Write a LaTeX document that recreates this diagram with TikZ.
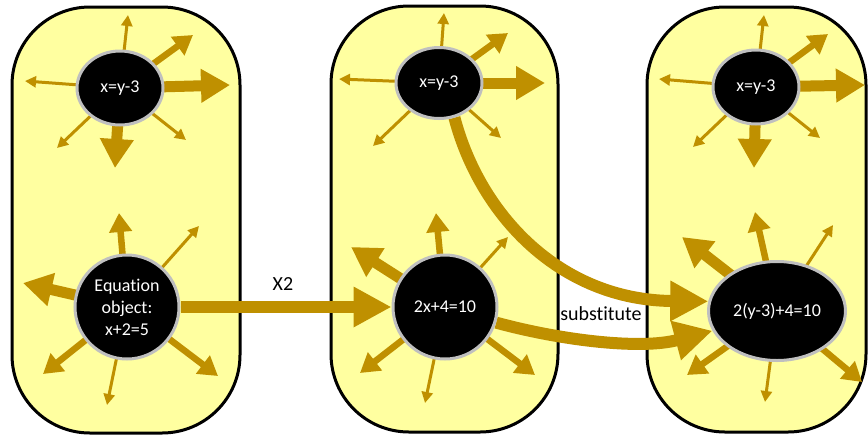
\documentclass[tikz,border=0pt]{standalone}
\usepackage{fontspec}
\setmainfont{Carlito}[Ligatures=NoCommon]
\usetikzlibrary{arrows.meta,shapes.geometric,backgrounds}
\definecolor{gold}{HTML}{BF9000}
\definecolor{panelfill}{RGB}{255,255,160}
\definecolor{rimgray}{HTML}{BFBFBF}
\begin{document}
\begin{tikzpicture}[x=1pt,y=-1pt,
  panel/.style={draw=black,line width=3pt,fill=panelfill,rounded corners=78pt},
  eqnode/.style={ellipse,fill=black,draw=rimgray,line width=3pt,text=white,inner sep=0pt,align=center,font=\fontsize{18}{22}\selectfont},
  thinarr/.style={color=gold,line width=3pt,-{Triangle[length=11pt,width=11pt]}},
  medarr/.style={color=gold,line width=6.5pt,-{Triangle[length=19pt,width=22pt]}},
  thickarr/.style={color=gold,line width=11pt,-{Triangle[length=29pt,width=32pt]}},
  mainarr/.style={color=gold,line width=12pt,-{Triangle[length=38pt,width=38pt]}},
  lbl/.style={font=\fontsize{20}{24}\selectfont,text=black}
]
\useasboundingbox (0,0) rectangle (868,437);

% equation nodes
\node[eqnode,minimum width=86pt,minimum height=74pt] (T1) at (120,88) {x=y-3};
\node[eqnode,minimum width=86pt,minimum height=71pt] (T2) at (439,83) {x=y-3};
\node[eqnode,minimum width=86pt,minimum height=74pt] (T3) at (756,87) {x=y-3};
\node[eqnode,minimum size=104pt] (B1) at (127,307) {Equation\\object:\\x+2=5};
\node[eqnode,minimum size=104pt] (B2) at (445,307) {2x+4=10};
\node[eqnode,minimum width=137pt,minimum height=99pt] (E3) at (777,311) {2(y-3)+4=10};

% labels
\node[lbl] (x2) at (283,284) {X2};
\node[lbl] (sub) at (601,314) {substitute};

\begin{pgfonlayer}{background}
\fill[white] (0,0) rectangle (868,437);
% panels
\draw[panel] (12,7) rectangle (240,433);
\draw[panel] (331,6) rectangle (558,432);
\draw[panel] (647,7) rectangle (866,432);

% main connectors
\draw[mainarr] (B1) -- (B2);
\draw[mainarr] (T2.-66) .. controls (480,215) and (560,300) .. (E3.172);
\draw[mainarr] (B2.-17) .. controls (560,340) and (640,350) .. (E3.197);

% spikes of T1
\draw[thinarr] (T1.center) -- ++(8,-73);
\draw[medarr] (T1.center) -- ++(73,-53);
\draw[thickarr] (T1.center) -- ++(110,-3);
\draw[thinarr] (T1.center) -- ++(66,52);
\draw[thickarr] (T1.center) -- ++(-5,80);
\draw[thinarr] (T1.center) -- ++(-63,60);
\draw[thinarr] (T1.center) -- ++(-95,-7);

% spikes of T2
\draw[thinarr] (T2.center) -- ++(5,-70);
\draw[medarr] (T2.center) -- ++(69,-50);
\draw[thickarr] (T2.center) -- ++(106,0);
\draw[thinarr] (T2.center) -- ++(62,55);
\draw[thinarr] (T2.center) -- ++(-66,63);
\draw[thinarr] (T2.center) -- ++(-100,-4);

% spikes of T3
\draw[thinarr] (T3.center) -- ++(8,-72);
\draw[medarr] (T3.center) -- ++(72,-53);
\draw[thickarr] (T3.center) -- ++(109,-2);
\draw[thinarr] (T3.center) -- ++(64,51);
\draw[thickarr] (T3.center) -- ++(-2,81);
\draw[thinarr] (T3.center) -- ++(-63,60);
\draw[thinarr] (T3.center) -- ++(-97,-8);

% spikes of B1
\draw[medarr] (B1.center) -- ++(-8,-94);
\draw[thinarr] (B1.center) -- ++(72,-81);
\draw[thickarr] (B1.center) -- ++(-104,-24);
\draw[medarr] (B1.center) -- ++(-84,67);
\draw[thinarr] (B1.center) -- ++(-20,98);
\draw[medarr] (B1.center) -- ++(91,69);

% spikes of B2
\draw[medarr] (B2.center) -- ++(-9,-94);
\draw[thinarr] (B2.center) -- ++(63,-70);
\draw[thickarr] (B2.center) -- ++(-94,-60);
\draw[medarr] (B2.center) -- ++(-85,66);
\draw[thinarr] (B2.center) -- ++(-20,96);
\draw[medarr] (B2.center) -- ++(90,68);

% spikes of E3
\draw[medarr] (E3.center) -- ++(-22,-99);
\draw[thinarr] (E3.center) -- ++(56,-86);
\draw[thickarr] (E3.center) -- ++(-95,-74);
\draw[medarr] (E3.center) -- ++(-90,64);
\draw[thinarr] (E3.center) -- ++(-12,91);
\draw[medarr] (E3.center) -- ++(85,71);
\end{pgfonlayer}
\end{tikzpicture}
\end{document}
